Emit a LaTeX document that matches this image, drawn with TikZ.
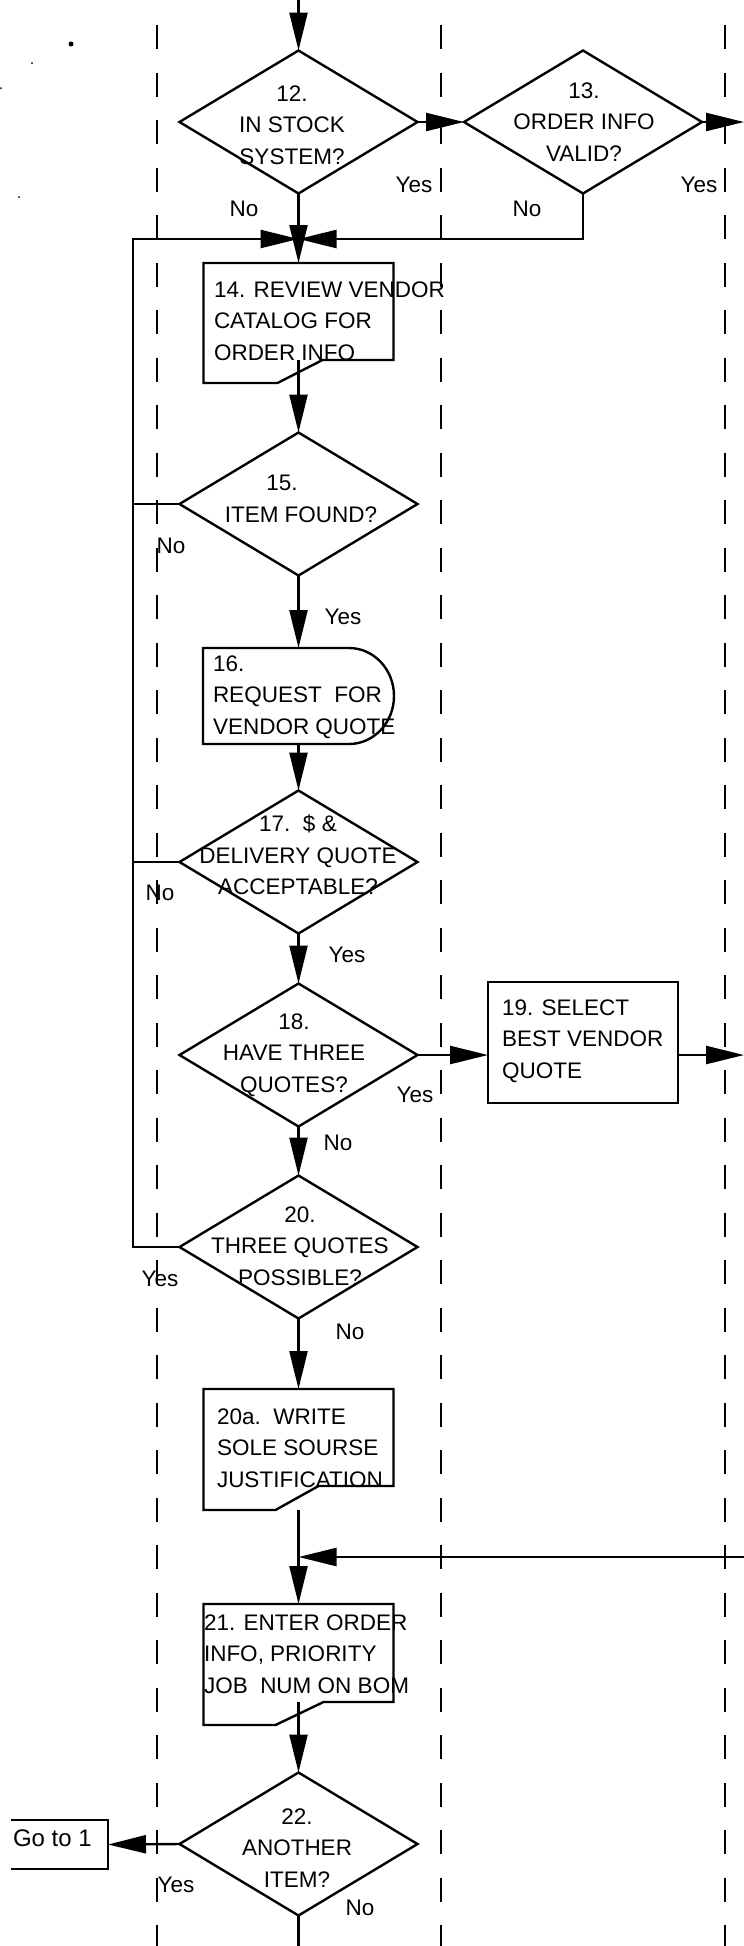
\documentclass[tikz,border=0pt]{standalone}
\usepackage{fontspec}
\setmainfont{Liberation Sans}
\usetikzlibrary{shapes.geometric,arrows.meta,calc}
\newcommand\notchoutline[4]{\draw[ln] (#1.north west) -- (#1.north east) -- ([yshift=#4pt]#1.south east) -- ([xshift=#2pt,yshift=#4pt]#1.south west) -- ([xshift=#3pt]#1.south west) -- (#1.south west) -- cycle;}
\begin{document}
\begin{tikzpicture}[x=1pt,y=-1pt,
  every node/.style={inner sep=0pt,outer sep=0pt},
  ln/.style={line width=2.4pt},
  arr/.style={ln,-{Triangle[length=38pt,width=18pt]}},
  dia/.style={draw,ln,shape=diamond,minimum width=238pt,minimum height=143pt},
  boxshape/.style={rectangle,minimum width=190pt},
  txt/.style={font=\fontsize{22.5pt}{31.5pt}\selectfont,align=left},
  ctxt/.style={font=\fontsize{22.5pt}{31.5pt}\selectfont,align=center},
  lbl/.style={font=\fontsize{22.5pt}{27pt}\selectfont},
  lane/.style={line width=2.4pt,dash pattern=on 24pt off 23.5pt},
]
\useasboundingbox (0,0) rectangle (744,1946);

% swimlane separators
\draw[lane] (157,25) -- (157,1946);
\draw[lane] (441,25) -- (441,1946);
\draw[lane] (725,25) -- (725,1946);

% scan specks
\fill (71,44) circle[radius=2.5pt];
\fill (32,63) circle[radius=1pt];
\fill (1,88) circle[radius=1pt];
\fill (19,197) circle[radius=1pt];

% free connector ends
\coordinate (top) at (298.5,0);
\coordinate (r13) at (744,122);
\coordinate (m1) at (298.5,239);
\coordinate (lp) at (133,239);
\coordinate (r19) at (744,1055);
\coordinate (r2) at (744,1557);
\coordinate (m2) at (298.5,1557);
\coordinate (bot) at (298.5,1946);

% 12
\node[dia] (d12) at (298.5,122) {};
\node[ctxt] (t12) at (292,125) {12.\\IN STOCK\\SYSTEM?};
% 13
\node[dia] (d13) at (583,122) {};
\node[ctxt] (t13) at (584,122) {13.\\ORDER INFO\\VALID?};

% 14
\node[boxshape,minimum height=120pt] (b14) at (298.5,323) {};
\notchoutline{b14}{119}{74}{23}
\node[txt,anchor=west] (t14) at (214,321) {14. REVIEW VENDOR\\CATALOG FOR\\ORDER INFO};

% 15
\node[dia] (d15) at (298.5,504) {};
\node[ctxt] (t15) at (301,499) {15.\hspace*{38pt}\\ITEM FOUND?};

% 16
\node[rectangle,minimum width=191pt,minimum height=96pt] (b16) at (298.5,696) {};
\draw[ln] (b16.north west) -- ([xshift=-45pt]b16.north east)
  arc[start angle=90,end angle=-90,x radius=45pt,y radius=48pt]
  -- (b16.south west) -- cycle;
\node[txt,anchor=west] (t16) at (213,697) {16.\\REQUEST\ \ FOR\\VENDOR QUOTE};

% 17
\node[dia] (d17) at (298.5,862) {};
\node[ctxt] (t17) at (298,855) {17.\ \ \$ \&\\DELIVERY QUOTE\\ACCEPTABLE?};

% 18
\node[dia] (d18) at (298.5,1055) {};
\node[ctxt] (t18) at (294,1055) {18.\\HAVE THREE\\QUOTES?};

% 19
\node[draw,ln,rectangle,minimum width=190pt,minimum height=121pt] (b19) at (583,1042.5) {};
\node[txt,anchor=west] (t19) at (502,1041) {19. SELECT\\BEST VENDOR\\QUOTE};

% 20
\node[dia] (d20) at (298.5,1247) {};
\node[ctxt] (t20) at (300,1246) {20.\\THREE QUOTES\\POSSIBLE?};

% 20a
\node[boxshape,minimum height=121pt] (b20a) at (298.5,1449.5) {};
\notchoutline{b20a}{115}{72}{24}
\node[txt,anchor=west] (t20a) at (217,1448) {20a.\ \ WRITE\\SOLE SOURSE\\JUSTIFICATION};

% 21
\node[boxshape,minimum height=121pt] (b21) at (298.5,1664.5) {};
\notchoutline{b21}{120}{72}{23}
\node[txt,anchor=west] (t21) at (204,1654) {21. ENTER ORDER\\INFO, PRIORITY\\JOB\ \ NUM ON BOM};

% 22
\node[dia] (d22) at (298.5,1844) {};
\node[ctxt] (t22) at (297,1848) {22.\\ANOTHER\\ITEM?};

% Go to 1
\node[rectangle,minimum width=97pt,minimum height=49pt] (g1) at (59.5,1844.5) {};
\draw[ln] (g1.north west) -- (g1.north east) -- (g1.south east) -- (g1.south west);
\node[font=\fontsize{24pt}{28pt}\selectfont,anchor=west] (tg1) at (13,1838) {Go to 1};

% connectors
\draw[arr] (top) -- (d12.north);
\draw[arr] (d12.east) -- (d13.west);
\draw[arr] (d13.east) -- (r13);
\draw[arr] (d12.south) -- (b14.north);
\draw[arr] (d13.south) |- (m1);
\draw[arr] (d20.west) -| (lp) -- (m1);
\draw[ln] (d15.west) -- (d15.west -| lp);
\draw[ln] (d17.west) -- (d17.west -| lp);
\draw[arr] ([yshift=23pt]b14.south) -- (d15.north);
\draw[arr] (d15.south) -- (b16.north);
\draw[arr] (b16.south) -- (d17.north);
\draw[arr] (d17.south) -- (d18.north);
\draw[arr] (d18.east) -- (d18.east -| b19.west);
\draw[arr] (d18.east -| b19.east) -- (r19);
\draw[arr] (d18.south) -- (d20.north);
\draw[arr] (d20.south) -- (b20a.north);
\draw[arr] (b20a.south) -- (b21.north);
\draw[arr] (r2) -- (m2);
\draw[arr] ([yshift=23pt]b21.south) -- (d22.north);
\draw[arr] (d22.west) -- (g1.east);
\draw[ln] (d22.south) -- (bot);

% branch labels
\node[lbl] (l12y) at (414,185) {Yes};
\node[lbl] (l12n) at (244,209) {No};
\node[lbl] (l13y) at (699,185) {Yes};
\node[lbl] (l13n) at (527,209) {No};
\node[lbl] (l15n) at (171,546) {No};
\node[lbl] (l15y) at (343,617) {Yes};
\node[lbl] (l17n) at (160,893) {No};
\node[lbl] (l17y) at (347,955) {Yes};
\node[lbl] (l18y) at (415,1095) {Yes};
\node[lbl] (l18n) at (338,1143) {No};
\node[lbl] (l20y) at (160,1279) {Yes};
\node[lbl] (l20n) at (350,1332) {No};
\node[lbl] (l22y) at (176,1885) {Yes};
\node[lbl] (l22n) at (360,1908) {No};
\end{tikzpicture}
\end{document}
